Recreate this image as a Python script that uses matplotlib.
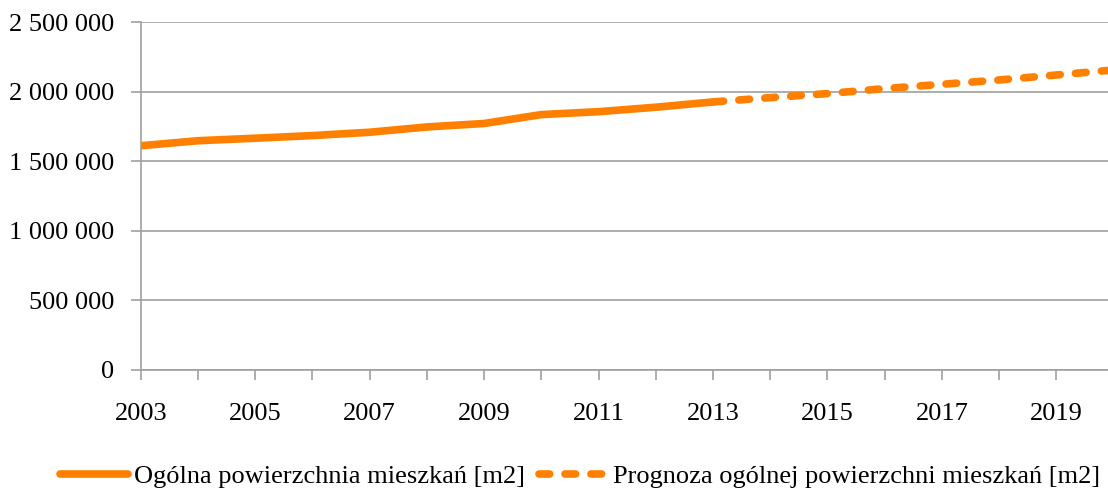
import matplotlib
matplotlib.use("Agg")
import matplotlib.pyplot as plt
from matplotlib.ticker import FuncFormatter, MultipleLocator

# Ogólna powierzchnia mieszkań - dane i prognoza
years_hist = [2003, 2004, 2005, 2006, 2007, 2008, 2009, 2010, 2011, 2012, 2013]
area_hist = [1613000, 1649000, 1667000, 1686000, 1710000, 1748000, 1773000,
             1837000, 1858000, 1890000, 1928000]

years_fcst = [2013, 2014, 2015, 2016, 2017, 2018, 2019, 2020]
area_fcst = [1928000, 1959000, 1988000, 2024000, 2055000, 2086000, 2122000, 2158000]

label_hist = "Ogólna powierzchnia mieszkań [m2]"
label_fcst = "Prognoza ogólnej powierzchni mieszkań [m2]"

ORANGE = "#FF8000"
GRID = "#A0A0A0"

plt.rcParams["font.family"] = ["Liberation Serif", "DejaVu Serif"]

fig = plt.figure(figsize=(11.08, 4.88), dpi=100)
ax = fig.add_axes([0.127, 0.242, 0.878, 0.712])

ax.plot(years_hist, area_hist, color=ORANGE, lw=5.5, solid_capstyle="round",
        label=label_hist)
ax.plot(years_fcst, area_fcst, color=ORANGE, lw=5.5, dashes=(1.4, 2.0),
        dash_capstyle="round", label=label_fcst)

ax.set_xlim(2003, 2020)
ax.set_ylim(0, 2500000)
ax.yaxis.set_major_locator(MultipleLocator(500000))
ax.yaxis.set_major_formatter(FuncFormatter(lambda v, p: f"{int(v):,}".replace(",", " ")))
ax.set_xticks(range(2003, 2021))
ax.set_xticklabels([str(y) if (y - 2003) % 2 == 0 else "" for y in range(2003, 2021)])

ax.grid(axis="y", color=GRID, lw=1.2)
ax.set_axisbelow(True)
for s in ("top", "right"):
    ax.spines[s].set_visible(False)
for s in ("left", "bottom"):
    ax.spines[s].set_color(GRID)
    ax.spines[s].set_linewidth(1.2)
ax.tick_params(axis="y", length=7, width=1.2, color=GRID, pad=12, labelsize=19)
ax.tick_params(axis="x", length=7, width=1.2, color=GRID, pad=17, labelsize=19)

fig.legend(loc="center", bbox_to_anchor=(0.5235, 0.024), ncol=2, frameon=False,
           fontsize=19, handlelength=2.6, handletextpad=0.2, columnspacing=0.55,
           borderpad=0, borderaxespad=0)

fig.savefig("out.png", dpi=100)
